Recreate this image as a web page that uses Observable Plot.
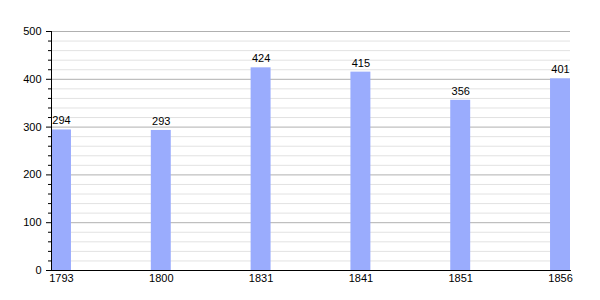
<!DOCTYPE html>
<html>
<head>
<meta charset="utf-8">
<script src="https://cdn.jsdelivr.net/npm/d3@7"></script>
<script src="https://cdn.jsdelivr.net/npm/@observablehq/plot@0.6"></script>
<style>
  html, body { margin: 0; padding: 0; background: #fff; }
  #chart svg { display: block; }
</style>
</head>
<body>
<div id="chart"></div>
<script>
const years = ["1793", "1800", "1831", "1841", "1851", "1856"];
const population = [294, 293, 424, 415, 356, 401];
const majorTicks = [0, 100, 200, 300, 400, 500];
const minorTicks = d3.range(0, 501, 20).filter(v => v % 100 !== 0);

const data = years.map((y, i) => ({year: y, value: population[i]}));

const chart = Plot.plot({
  width: 600,
  height: 300,
  marginLeft: 51,
  marginRight: 30,
  marginTop: 31,
  marginBottom: 30,
  style: {fontFamily: "'Liberation Sans', Arial, sans-serif", fontSize: "11px", color: "#000", background: "#fff"},
  x: {domain: years, paddingInner: 0.8, paddingOuter: 0, align: 0.5, round: false, label: null, tickSize: 0, tickPadding: 4},
  y: {domain: [0, 500], label: null},
  marks: [
    Plot.ruleY(minorTicks, {stroke: "#e2e2e2", strokeWidth: 1}),
    Plot.ruleY(majorTicks.filter(v => v > 0), {stroke: "#b0b0b0", strokeWidth: 1}),
    Plot.barY(data, {x: "year", y: "value", fill: "#9aacfd"}),
    Plot.text(data, {x: "year", y: "value", text: d => String(d.value), dy: -9, fill: "#000", fontSize: 11}),
    Plot.axisY(minorTicks, {tickSize: 3, text: null, label: null}),
    Plot.axisY(majorTicks, {tickSize: 5, tickPadding: 5, label: null, fontSize: 11}),
    Plot.axisX({tickSize: 0, tickPadding: 4, label: null, fontSize: 11}),
    Plot.frame({anchor: "left", stroke: "#000"}),
    Plot.frame({anchor: "bottom", stroke: "#000"})
  ]
});
document.getElementById("chart").appendChild(chart);
</script>
</body>
</html>
